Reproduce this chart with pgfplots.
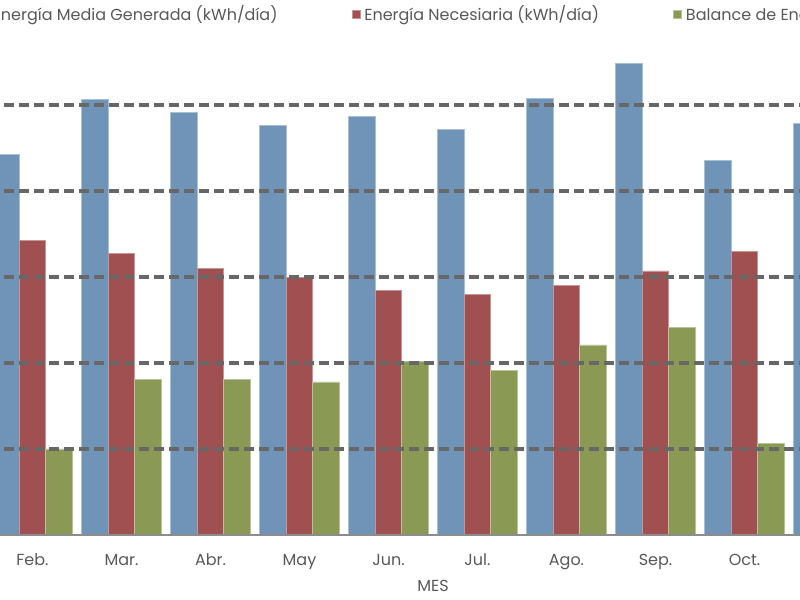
\documentclass[border=0pt]{standalone}
\usepackage{fontspec}
\setmainfont{Poppins}
\usepackage{pgfplots}
\pgfplotsset{compat=1.18}
\definecolor{cblue}{HTML}{7094B8}
\definecolor{cred}{HTML}{A05050}
\definecolor{cgreen}{HTML}{8A9A55}
\definecolor{cgrid}{HTML}{676767}
\definecolor{ctext}{HTML}{595959}
\begin{document}
\begin{tikzpicture}
% visible window of the chart (the original screenshot is cropped)
\path[use as bounding box] (50.5pt,-32.5pt) rectangle (450.5pt,267.5pt);
\clip (50.5pt,-32.5pt) rectangle (450.5pt,267.5pt);
\begin{axis}[
    scale only axis,
    x=44.5pt, y=43pt,
    xmin=-0.5, xmax=11.5,
    ymin=0, ymax=6.2,
    ybar=0pt,
    bar width=13.25pt,
    axis on top,
    axis x line*=bottom,
    axis y line*=left,
    y axis line style={draw=none},
    x axis line style={draw=gray!90, line width=1.2pt, -},
    xtick={1,...,9},
    xticklabels={Feb.,Mar.,Abr.,May,Jun.,Jul.,Ago.,Sep.,Oct.},
    major tick length=0pt,
    ytick={1,2,3,4,5},
    yticklabels={},
    ymajorgrids=true,
    grid style={cgrid, line width=1.6pt, dash pattern=on 4.8pt off 2.7pt},
    xticklabel style={font=\fontsize{8}{10}\selectfont, text=ctext, yshift=-6pt},
    xlabel={MES},
    xlabel style={font=\fontsize{8}{10}\selectfont, text=ctext, yshift=1.5pt},
    legend columns=3,
    legend style={at={(axis cs:5.75,6.05)}, anchor=center, draw=none,
        font=\fontsize{8}{10}\selectfont, text=ctext,
        /tikz/every even column/.append style={column sep=35pt}},
    legend image code/.code={\fill[#1] (0pt,-2pt) rectangle (4pt,2pt);},
]
\addplot[fill=cblue, draw=cblue!60!white, line width=0.4pt] coordinates {
    (1,4.42) (2,5.06) (3,4.91) (4,4.76) (5,4.87) (6,4.72) (7,5.08) (8,5.48) (9,4.36) (10,4.79)};
\addplot[fill=cred, draw=cred!60!white, line width=0.4pt] coordinates {
    (1,3.42) (2,3.27) (3,3.10) (4,3.00) (5,2.84) (6,2.80) (7,2.90) (8,3.07) (9,3.30)};
\addplot[fill=cgreen, draw=cgreen!60!white, line width=0.4pt] coordinates {
    (1,1.00) (2,1.81) (3,1.81) (4,1.78) (5,2.02) (6,1.91) (7,2.21) (8,2.41) (9,1.06)};
\legend{Energía Media Generada (kWh/día), Energía Necesiaria (kWh/día), Balance de Energía (kWh/día)}
\end{axis}
\end{tikzpicture}
\end{document}
